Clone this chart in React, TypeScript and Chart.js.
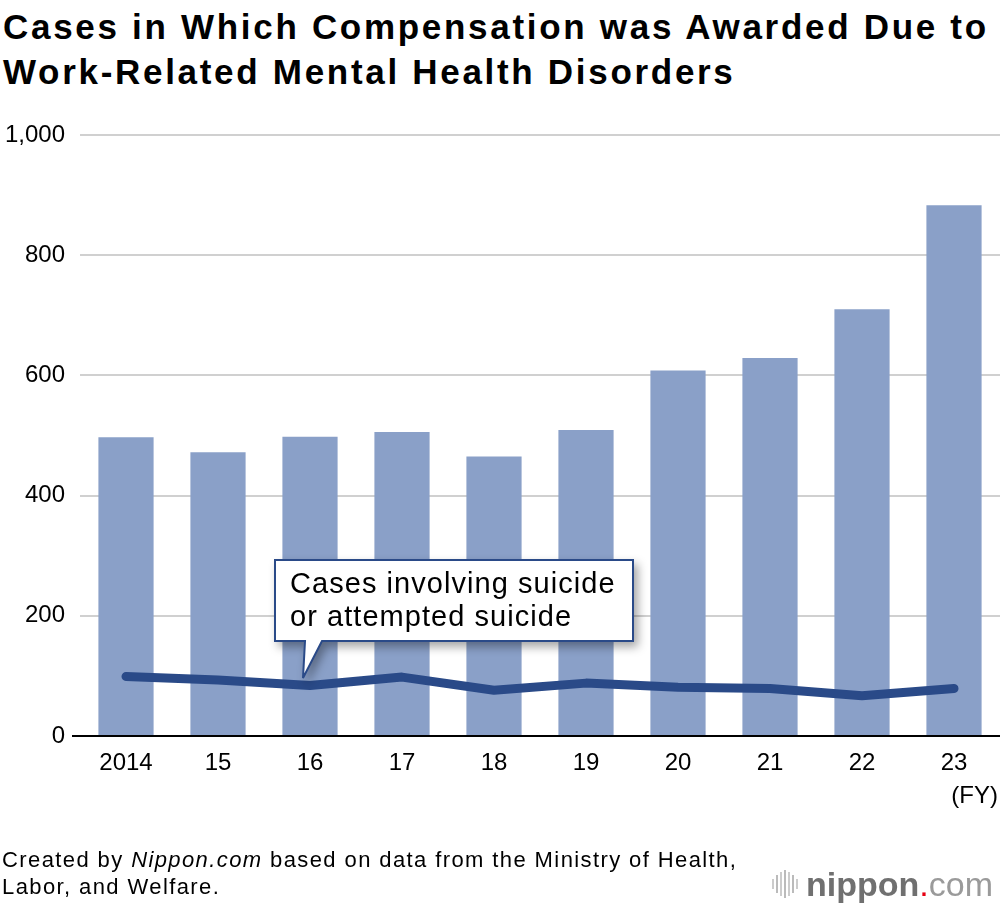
import React, { useEffect, useRef } from "react";
import { Chart, registerables } from "chart.js";

Chart.register(...registerables);

const categories = ["2014", "15", "16", "17", "18", "19", "20", "21", "22", "23"];
const totalCases = [497, 472, 498, 506, 465, 509, 608, 629, 710, 883];
const suicideCases = [99, 93, 84, 98, 76, 88, 81, 79, 67, 79];
const yTicks = [0, 200, 400, 600, 800, 1000];

const FONT = "'Liberation Sans', Arial, Helvetica, sans-serif";
const BAR_COLOR = "#8aa0c8";
const LINE_COLOR = "#2a4a88";

const axisLinePlugin = {
  id: "axisLine",
  afterDatasetsDraw(chart: any) {
    const { ctx, chartArea } = chart;
    const y = chart.scales.y.getPixelForValue(0);
    ctx.save();
    ctx.strokeStyle = "#000";
    ctx.lineWidth = 2;
    ctx.beginPath();
    ctx.moveTo(chartArea.left - 8, y);
    ctx.lineTo(chartArea.right, y);
    ctx.stroke();
    ctx.restore();
  },
};

export default function App() {
  const canvasRef = useRef<HTMLCanvasElement | null>(null);

  useEffect(() => {
    document.body.style.margin = "0";
    const canvas = canvasRef.current;
    if (!canvas) return;
    const chart = new Chart(canvas, {
      type: "bar",
      data: {
        labels: categories,
        datasets: [
          {
            type: "line" as any,
            data: suicideCases,
            borderColor: LINE_COLOR,
            borderWidth: 9,
            pointRadius: 0,
            borderCapStyle: "round",
            borderJoinStyle: "round",
            tension: 0,
            order: 0,
          } as any,
          {
            type: "bar",
            data: totalCases,
            backgroundColor: BAR_COLOR,
            barPercentage: 0.6,
            categoryPercentage: 1,
            order: 1,
          },
        ],
      },
      plugins: [axisLinePlugin],
      options: {
        responsive: false,
        maintainAspectRatio: false,
        animation: false,
        layout: { padding: { top: 135, left: 0, right: 0, bottom: 0 } },
        plugins: {
          legend: { display: false },
          tooltip: { enabled: false },
          title: { display: false },
        },
        scales: {
          x: {
            grid: { display: false, drawTicks: false },
            border: { display: false },
            ticks: {
              color: "#000",
              font: { family: FONT, size: 24 },
              padding: 13,
              maxRotation: 0,
            },
            afterFit(scale: any) {
              scale.height = 172;
            },
          },
          y: {
            min: 0,
            max: 1000,
            afterBuildTicks(scale: any) {
              scale.ticks = yTicks.map((v) => ({ value: v }));
            },
            grid: {
              drawTicks: false,
              color: (c: any) => (c.tick && c.tick.value === 0 ? "rgba(0,0,0,0)" : "#d0d0d0"),
              lineWidth: 2,
            },
            border: { display: false },
            ticks: {
              color: "#000",
              font: { family: FONT, size: 24 },
              padding: 15,
              callback: (v: any) => Number(v).toLocaleString("en-US"),
            },
            afterFit(scale: any) {
              scale.width = 80;
            },
          },
        },
      },
    });
    return () => chart.destroy();
  }, []);

  return (
    <div style={{ position: "relative", width: 1000, height: 908, background: "#fff", fontFamily: FONT, overflow: "hidden" }}>
      <div
        style={{
          position: "absolute",
          left: 3,
          top: 4,
          fontSize: 35,
          fontWeight: "bold",
          lineHeight: "45px",
          letterSpacing: "2.7px",
          color: "#000",
          whiteSpace: "nowrap",
        }}
      >
        Cases in Which Compensation was Awarded Due to
        <br />
        Work-Related Mental Health Disorders
      </div>
      <canvas ref={canvasRef} width={1000} height={908} style={{ position: "absolute", left: 0, top: 0, width: 1000, height: 908 }} />
      <div style={{ position: "absolute", right: 2, top: 783, fontSize: 24, lineHeight: "24px", color: "#000" }}>(FY)</div>

      <svg
        width={390}
        height={140}
        style={{ position: "absolute", left: 270, top: 555, filter: "drop-shadow(4px 5px 5px rgba(0,0,0,0.35))" }}
      >
        <path d="M5,5 H363 V86 H52 L33,123 L35,86 H5 Z" fill="#fff" stroke={LINE_COLOR} strokeWidth={2} strokeLinejoin="miter" />
      </svg>
      <div
        style={{
          position: "absolute",
          left: 290,
          top: 567,
          fontSize: 29,
          lineHeight: "33px",
          letterSpacing: "1.05px",
          color: "#000",
          whiteSpace: "nowrap",
        }}
      >
        Cases involving suicide
        <br />
        or attempted suicide
      </div>

      <div
        style={{
          position: "absolute",
          left: 2,
          top: 846,
          fontSize: 22,
          lineHeight: "27px",
          letterSpacing: "1.4px",
          color: "#000",
          whiteSpace: "nowrap",
        }}
      >
        Created by <i>Nippon.com</i> based on data from the Ministry of Health,
        <br />
        Labor, and Welfare.
      </div>

      <div style={{ position: "absolute", left: 772, top: 866, height: 36, display: "flex", alignItems: "center" }}>
        <div style={{ display: "flex", alignItems: "center", gap: 2, marginRight: 8 }}>
          {[10, 18, 24, 28, 24, 18, 10].map((h, i) => (
            <div key={i} style={{ width: 2, height: h, background: i % 2 ? "#bbb" : "#ccc" }} />
          ))}
        </div>
        <span style={{ fontSize: 34, fontWeight: "bold", color: "#707070", lineHeight: "36px" }}>nippon</span>
        <span style={{ fontSize: 34, color: "#e60012", lineHeight: "36px" }}>.</span>
        <span style={{ fontSize: 34, color: "#9a9a9a", lineHeight: "36px", fontWeight: 300 }}>com</span>
      </div>
    </div>
  );
}
